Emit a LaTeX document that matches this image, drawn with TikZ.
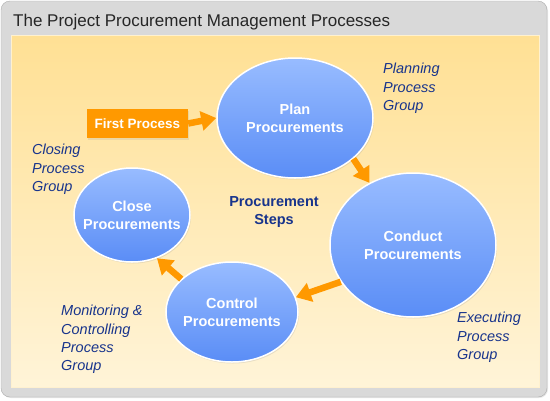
\documentclass[tikz,border=0pt]{standalone}
\usepackage{fontspec}
\setmainfont{Liberation Sans}
\usetikzlibrary{shapes.geometric,arrows.meta,shadows}

\definecolor{framegray}{RGB}{217,217,217}
\definecolor{frameline}{RGB}{172,172,172}
\definecolor{paneltop}{RGB}{255,224,148}
\definecolor{panelbot}{RGB}{255,244,216}
\definecolor{steptop}{RGB}{152,188,255}
\definecolor{stepbot}{RGB}{90,141,246}
\definecolor{flow}{RGB}{255,153,0}
\definecolor{groupblue}{RGB}{24,52,140}

\begin{document}
\begin{tikzpicture}[x=1pt, y=-1pt,
  stepnode/.style={ellipse, draw=white, line width=1.5pt, top color=steptop,
                   bottom color=stepbot, text=white, align=center, inner sep=0pt,
                   font=\fontsize{14.5}{18}\selectfont\bfseries,
                   drop shadow={opacity=0.18, shadow xshift=1pt, shadow yshift=-1.5pt}},
  firstbox/.style={rectangle, fill=flow, text=white, align=center,
                   minimum width=101pt, minimum height=29pt, inner sep=0pt,
                   font=\fontsize{13.5}{16}\selectfont\bfseries,
                   drop shadow={opacity=0.15, shadow xshift=1pt, shadow yshift=-1.5pt}},
  groupnote/.style={anchor=north west, inner sep=0pt, align=left, text=groupblue,
                    font=\fontsize{14.5}{18.3}\selectfont\itshape},
  stepsnote/.style={align=center, text=groupblue, inner sep=0pt,
                    font=\fontsize{14.5}{18}\selectfont\bfseries},
  flowarrow/.style={draw=flow, line width=6.5pt, -{Triangle[width=19pt,length=15pt]}},
]
  \useasboundingbox (0,0) rectangle (550,400);

  % Frame and panel
  \draw[frameline, fill=framegray, rounded corners=9pt,
        drop shadow={opacity=0.2, shadow xshift=1pt, shadow yshift=-1pt}]
        (1,1) rectangle (547,397);
  \draw[white!55!paneltop, top color=paneltop, bottom color=panelbot]
        (11,35) rectangle (539,387);
  \node[anchor=base west, inner sep=0pt, text=black!85,
        font=\fontsize{17}{20}\selectfont] (title) at (13,26)
        {The Project Procurement Management Processes};

  % Process steps
  \node[stepnode, minimum width=156pt, minimum height=120pt] (plan) at (295,118)
        {Plan\\Procurements};
  \node[stepnode, minimum width=166pt, minimum height=144pt] (conduct) at (413,245)
        {Conduct\\Procurements};
  \node[stepnode, inner xsep=-2.5pt, minimum width=132pt, minimum height=100pt]
        (control) at (232,312) {Control\\Procurements};
  \node[stepnode, inner xsep=-8pt, minimum width=116pt, minimum height=94pt]
        (close) at (132,215) {Close\\Procurements};

  % Entry point
  \node[firstbox] (first) at (137.5,123.5) {First Process};

  % Centre label
  \node[stepsnote] (steps) at (274,212) {Procurement\\Steps};

  % Process group labels
  \node[groupnote] (planning) at (383,63) {Planning\\Process\\Group};
  \node[groupnote] (closing) at (32,144) {Closing\\Process\\Group};
  \node[groupnote] (monitoring) at (61,305) {Monitoring \&\\Controlling\\Process\\Group};
  \node[groupnote] (executing) at (457,312) {Executing\\Process\\Group};

  % Arrows round the cycle
  \draw[flowarrow] (first.east) -- (plan.west);
  \draw[flowarrow] (plan.-35) -- (conduct.125);
  \draw[flowarrow] (conduct.207) -- (control.13);
  \draw[flowarrow] (control.147) -- (close.-60);

\end{tikzpicture}
\end{document}
